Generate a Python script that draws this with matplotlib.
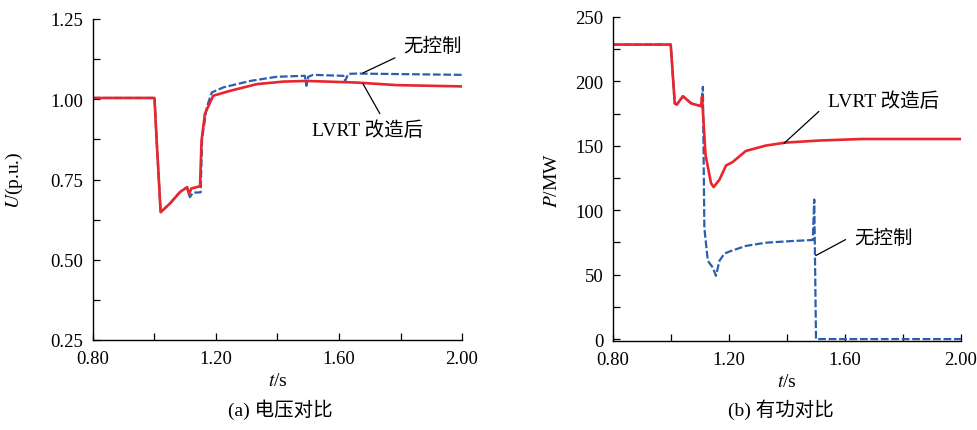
import numpy as np
import matplotlib
matplotlib.use("Agg")
import matplotlib.pyplot as plt
from matplotlib.ticker import MultipleLocator

plt.rcParams['font.family'] = ['Liberation Serif', 'Noto Sans CJK SC']
plt.rcParams['mathtext.fontset'] = 'stix'

# ---------------- data: (a) voltage ----------------
u_red_t = [0.80, 1.000, 1.007, 1.020, 1.050, 1.083, 1.106, 1.112, 1.120, 1.148,
           1.153, 1.164, 1.191, 1.245, 1.332, 1.419, 1.495, 1.658, 1.788, 2.00]
u_red_v = [1.004, 1.004, 0.871, 0.648, 0.675, 0.711, 0.726, 0.705, 0.722, 0.729,
           0.871, 0.955, 1.011, 1.026, 1.047, 1.055, 1.057, 1.052, 1.044, 1.040]

u_blue_t = [0.80, 1.000, 1.007, 1.020, 1.050, 1.083, 1.106, 1.115, 1.125, 1.150,
            1.155, 1.170, 1.186, 1.224, 1.311, 1.397, 1.489, 1.494, 1.500, 1.516,
            1.614, 1.620, 1.630, 1.658, 2.00]
u_blue_v = [1.004, 1.004, 0.871, 0.648, 0.675, 0.711, 0.726, 0.695, 0.709, 0.710,
            0.880, 0.975, 1.021, 1.037, 1.057, 1.070, 1.073, 1.042, 1.070, 1.076,
            1.073, 1.057, 1.079, 1.080, 1.076]

# ---------------- data: (b) active power ----------------
p_red_t = [0.80, 0.999, 1.013, 1.020, 1.041, 1.070, 1.104, 1.107, 1.119, 1.138,
           1.147, 1.167, 1.190, 1.212, 1.258, 1.327, 1.395, 1.510, 1.658, 1.830, 2.00]
p_red_v = [228.6, 228.6, 182.9, 182.0, 188.5, 182.9, 180.8, 188.0, 143.0, 121.0,
           118.0, 123.7, 134.8, 137.3, 146.0, 150.2, 152.5, 154.1, 155.3, 155.3, 155.3]

p_blue_t = [0.80, 0.999, 1.013, 1.020, 1.041, 1.070, 1.104, 1.110, 1.115, 1.127,
            1.144, 1.155, 1.167, 1.184, 1.207, 1.258, 1.327, 1.418, 1.489, 1.494,
            1.500, 2.00]
p_blue_v = [228.6, 228.6, 182.9, 182.0, 188.5, 182.9, 180.8, 195.8, 86.4, 60.7,
            55.6, 49.1, 60.7, 66.4, 68.4, 72.3, 74.8, 76.1, 76.9, 108.3,
            0.0, 0.0]

x_ticks = [0.80, 1.20, 1.60, 2.00]
x_tick_labels = ["0.80", "1.20", "1.60", "2.00"]
u_ticks = [0.25, 0.50, 0.75, 1.00, 1.25]
u_tick_labels = ["0.25", "0.50", "0.75", "1.00", "1.25"]
p_ticks = [0, 50, 100, 150, 200, 250]
p_tick_labels = ["0", "50", "100", "150", "200", "250"]

RED = '#e8262d'
BLUE = '#2b5fae'
FS = 14
TFS = 13.5

fig = plt.figure(figsize=(9.78, 4.31), dpi=100)
axa = fig.add_axes([93/978, 1-341/431, 369/978, 321/431])
axb = fig.add_axes([613/978, 1-342/431, 348/978, 324/431])

for ax in (axa, axb):
    ax.spines['top'].set_visible(False)
    ax.spines['right'].set_visible(False)
    ax.spines['left'].set_linewidth(1.0)
    ax.spines['bottom'].set_linewidth(1.0)
    ax.tick_params(which='both', direction='in', length=5, width=0.9,
                   labelsize=TFS, pad=7, colors='black')
    ax.set_xlim(0.80, 2.00)
    ax.set_xticks(x_ticks)
    ax.set_xticklabels(x_tick_labels)
    ax.xaxis.set_minor_locator(MultipleLocator(0.2))
    ax.set_xlabel('$t$/s', fontsize=FS, labelpad=4)

# (a)
axa.plot(u_blue_t, u_blue_v, color=BLUE, lw=1.6, dashes=(3.5, 1.2))
axa.plot(u_red_t, u_red_v, color=RED, lw=1.9)
axa.set_ylim(0.25, 1.25)
axa.set_yticks(u_ticks)
axa.set_yticklabels(u_tick_labels)
axa.yaxis.set_minor_locator(MultipleLocator(0.125))
axa.set_ylabel('$U$(p.u.)', fontsize=FS)
axa.yaxis.set_label_coords(-0.185, 0.5)

axa.annotate('', xy=(1.678, 1.082), xytext=(1.782, 1.129),
             arrowprops=dict(arrowstyle='-', color='black', lw=0.9, shrinkA=0, shrinkB=0))
axa.text(1.905, 1.166, '无控制', fontsize=FS, ha='center', va='center')
axa.annotate('', xy=(1.678, 1.048), xytext=(1.733, 0.955),
             arrowprops=dict(arrowstyle='-', color='black', lw=0.9, shrinkA=0, shrinkB=0))
axa.text(1.694, 0.905, 'LVRT 改造后', fontsize=FS, ha='center', va='center')

# (b)
axb.plot(p_blue_t, p_blue_v, color=BLUE, lw=1.6, dashes=(3.5, 1.2))
axb.plot(p_red_t, p_red_v, color=RED, lw=1.9)
axb.set_ylim(-1.5, 250)
axb.set_yticks(p_ticks)
axb.set_yticklabels(p_tick_labels)
axb.yaxis.set_minor_locator(MultipleLocator(25))
axb.set_ylabel('$P$/MW', fontsize=FS)
axb.yaxis.set_label_coords(-0.150, 0.5)

axb.annotate('', xy=(1.390, 152.0), xytext=(1.510, 176.7),
             arrowprops=dict(arrowstyle='-', color='black', lw=0.9, shrinkA=0, shrinkB=0))
axb.text(1.732, 185.2, 'LVRT 改造后', fontsize=FS, ha='center', va='center')
axb.annotate('', xy=(1.499, 64.8), xytext=(1.602, 77.2),
             arrowprops=dict(arrowstyle='-', color='black', lw=0.9, shrinkA=0, shrinkB=0))
axb.text(1.732, 78.7, '无控制', fontsize=FS, ha='center', va='center')

fig.text(280/978, 1-410/431, '(a) 电压对比', fontsize=FS, ha='center', va='center')
fig.text(781/978, 1-410/431, '(b) 有功对比', fontsize=FS, ha='center', va='center')

fig.savefig('out.png', dpi=100)
